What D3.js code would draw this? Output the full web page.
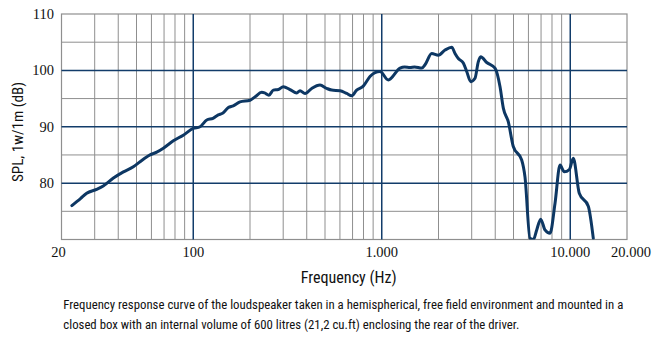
<!DOCTYPE html>
<html>
<head>
<meta charset="utf-8">
<script src="https://cdn.jsdelivr.net/npm/d3@7/dist/d3.min.js"></script>
<style>
  html, body { margin: 0; padding: 0; background: #fff; }
  svg { display: block; }
</style>
</head>
<body>
<svg id="chart" width="666" height="344"></svg>
<script>
// ---- data ----
const freqHz = [22.7, 25.3, 27.2, 30.7, 33.3, 37.7, 42.6, 48.1, 52.2, 59.0, 64.0, 69.4, 78.4, 88.5,
  100, 108.6, 117.9, 127.3, 135.8, 143, 153.5, 163, 177, 200, 212.6, 230.7, 239, 252, 265.9, 282.6,
  300.4, 326, 354, 368.5, 391.6, 425, 470.4, 510.6, 542.6, 600.6, 652, 693, 736, 798, 866, 920.6, 979,
  1083, 1250, 1322, 1412, 1494, 1630, 1696, 1841, 1996, 2166, 2350, 2447, 2548, 2708, 2823, 2965,
  3124, 3251, 3349, 3604, 3989, 4241, 4415, 4690, 4986, 5525, 5752, 6115, 6383, 6638, 6970, 7345,
  7809, 8300, 8824, 9299, 9886, 10379, 11164, 12465, 13251];
const splDb = [76.0, 77.3, 78.2, 78.9, 79.5, 80.9, 82.0, 82.9, 83.8, 85.0, 85.5, 86.2, 87.5, 88.5,
  89.7, 90.0, 91.2, 91.5, 92.1, 92.4, 93.4, 93.7, 94.4, 94.7, 95.3, 96.1, 96.0, 95.6, 96.5, 96.6,
  97.1, 96.6, 96.0, 96.4, 95.9, 96.8, 97.4, 96.8, 96.5, 96.4, 95.9, 95.5, 96.5, 97.2, 98.9, 99.6, 99.8,
  98.3, 100.4, 100.6, 100.5, 100.6, 100.4, 101.0, 103.0, 102.7, 103.6, 104.1, 103.0, 102.1, 101.3, 99.8, 98.0,
  98.6, 101.5, 102.4, 101.4, 100.4, 97.1, 93.3, 90.9, 86.5, 84.1, 81.1, 70.2, 70.0, 71.7, 73.6, 71.7,
  71.1, 76.4, 83.2, 82.0, 82.4, 84.4, 78.2, 75.9, 70.2];

const xTickValues = [20, 100, 1000, 10000, 20000];
const xTickLabels = ["20", "100", "1.000", "10.000", "20.000"];
const yTickValues = [80, 90, 100, 110];
const yTickLabels = ["80", "90", "100", "110"];
const minorFreqs = [30, 40, 50, 60, 70, 80, 90, 200, 300, 400, 500, 600, 700, 800, 900,
  2000, 3000, 4000, 5000, 6000, 7000, 8000, 9000];
const majorFreqs = [100, 1000, 10000];
const minorDb = [75, 85, 95, 105];
const majorDb = [80, 90, 100];

const xTitle = "Frequency (Hz)";
const yTitle = "SPL, 1w/1m (dB)";
const caption = [
  "Frequency response curve of the loudspeaker taken in a hemispherical, free field environment and mounted in a",
  "closed box with an internal volume of 600 litres (21,2 cu.ft) enclosing the rear of the driver."
];

// ---- layout ----
const L = 61.5, R = 627, T = 14, B = 239.5;
const NAVY = "#123c6a", CURVE = "#0d3763", GRAY = "#8f8f8f";
const svg = d3.select("#chart");

const x = d3.scaleLog().domain([20, 20000]).range([L, R]);
const y = d3.scaleLinear().domain([70, 110]).range([B, T]);

const g = svg.append("g");

// grid: gray
g.selectAll("line.vmin").data(minorFreqs).enter().append("line")
  .attr("x1", d => x(d)).attr("x2", d => x(d)).attr("y1", T).attr("y2", B)
  .attr("stroke", GRAY).attr("stroke-width", 1);
g.selectAll("line.hmin").data(minorDb).enter().append("line")
  .attr("x1", L).attr("x2", R).attr("y1", d => y(d)).attr("y2", d => y(d))
  .attr("stroke", GRAY).attr("stroke-width", 1);
// border
g.append("rect").attr("x", L).attr("y", T).attr("width", R - L).attr("height", B - T)
  .attr("fill", "none").attr("stroke", GRAY).attr("stroke-width", 1.2);
// grid: navy
g.selectAll("line.vmaj").data(majorFreqs).enter().append("line")
  .attr("x1", d => x(d)).attr("x2", d => x(d)).attr("y1", T).attr("y2", B)
  .attr("stroke", NAVY).attr("stroke-width", 1.5);
g.selectAll("line.hmaj").data(majorDb).enter().append("line")
  .attr("x1", L).attr("x2", R).attr("y1", d => y(d)).attr("y2", d => y(d))
  .attr("stroke", NAVY).attr("stroke-width", 1.5);

// curve
svg.append("clipPath").attr("id", "clip").append("rect")
  .attr("x", L).attr("y", T - 5).attr("width", R - L).attr("height", B - T + 5);
const pts = freqHz.map((f, i) => [f, splDb[i]]);
const line = d3.line().x(d => x(d[0])).y(d => y(d[1])).curve(d3.curveMonotoneX);
svg.append("path").datum(pts).attr("d", line).attr("clip-path", "url(#clip)")
  .attr("fill", "none").attr("stroke", CURVE).attr("stroke-width", 3)
  .attr("stroke-linejoin", "round").attr("stroke-linecap", "round");

// tick labels
const SERIF = "'Liberation Serif', 'DejaVu Serif', serif";
svg.selectAll("text.xt").data(xTickValues).enter().append("text")
  .attr("x", (d, i) => x(d) + (i === 0 ? -3 : (i === 4 ? 4 : 0)))
  .attr("y", 257)
  .attr("text-anchor", "middle").attr("font-family", SERIF).attr("font-size", 14.5)
  .attr("fill", "#111").text((d, i) => xTickLabels[i]);
svg.selectAll("text.yt").data(yTickValues).enter().append("text")
  .attr("x", 54).attr("y", d => y(d) + 5)
  .attr("text-anchor", "end").attr("font-family", SERIF).attr("font-size", 14.5)
  .attr("fill", "#111").text((d, i) => yTickLabels[i]);

// condensed sans texts
const SANS = "'Liberation Sans Narrow', 'Roboto Condensed', 'DejaVu Sans Condensed', 'Liberation Sans', sans-serif";
function fitText(sel, w) {
  sel.attr("textLength", w).attr("lengthAdjust", "spacingAndGlyphs");
}
fitText(svg.append("text").attr("x", 300.7).attr("y", 282.5)
  .attr("font-family", SANS).attr("font-size", 16.5).attr("fill", "#111").text(xTitle), 96);

fitText(svg.append("text").attr("transform", "translate(23,182) rotate(-90)")
  .attr("x", 0).attr("y", 0)
  .attr("font-family", SANS).attr("font-size", 14.5).attr("fill", "#111").text(yTitle), 100);

const capW = [560, 456];
caption.forEach((c, i) => {
  fitText(svg.append("text").attr("x", 63.3).attr("y", 309 + i * 20)
    .attr("font-family", SANS).attr("font-size", 13.5).attr("fill", "#111").text(c), capW[i]);
});
</script>
</body>
</html>
